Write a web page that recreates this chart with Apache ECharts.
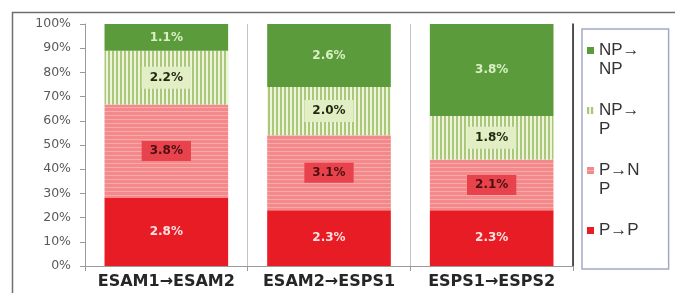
<!DOCTYPE html>
<html>
<head>
<meta charset="utf-8">
<script src="https://cdn.jsdelivr.net/npm/echarts@6/dist/echarts.min.js"></script>
<style>
  html, body { margin: 0; padding: 0; background: #fff; }
  #chart { width: 675px; height: 293px; }
</style>
</head>
<body>
<div id="chart"></div>
<script>
const categories = ['ESAM1→ESAM2', 'ESAM2→ESPS1', 'ESPS1→ESPS2']
const yTicks = ['0%', '10%', '20%', '30%', '40%', '50%', '60%', '70%', '80%', '90%', '100%']

// share of each bar (percent)
const sharePP = [28.3, 23, 23]
const sharePNP = [38.4, 31, 21]
const shareNPP = [22.2, 20, 18]
const shareNPNP = [11.1, 26, 38]

// printed labels
const labelPP = ['2.8%', '2.3%', '2.3%']
const labelPNP = ['3.8%', '3.1%', '2.1%']
const labelNPP = ['2.2%', '2.0%', '1.8%']
const labelNPNP = ['1.1%', '2.6%', '3.8%']

// legend text, wrapped like the original (blank first/last lines keep icons on line 1)
const legendText = { 'NP→NP': ' \nNP→\nNP', 'NP→P': ' \nNP→\nP', 'P→NP': ' \nP→N\nP', 'P→P': ' \nP→P\n ' }

function stripes(w, h, draw) {
  const c = document.createElement('canvas')
  c.width = w; c.height = h
  draw(c.getContext('2d'))
  return { image: c, repeat: 'repeat' }
}

const hStripe = stripes(4, 4, ctx => {
  ctx.fillStyle = '#f4898c'; ctx.fillRect(0, 0, 4, 4)
  ctx.fillStyle = '#f8a9aa'; ctx.fillRect(0, 3, 4, 1)
})
const vStripe = stripes(4, 4, ctx => {
  ctx.fillStyle = '#edf4d9'; ctx.fillRect(0, 0, 4, 4)
  ctx.fillStyle = '#a9c87a'; ctx.fillRect(0, 0, 2, 4)
})

function mkSeries(name, data, labels, color, lbl) {
  return {
    name, type: 'bar', stack: 'all', barWidth: '76%',
    data,
    itemStyle: { color },
    label: Object.assign({
      show: true, position: 'inside', fontFamily: 'DejaVu Sans', fontWeight: 'bold', fontSize: 12,
      formatter: p => labels[p.dataIndex]
    }, lbl)
  }
}

const chart = echarts.init(document.getElementById('chart'))
chart.setOption({
  animation: false,
  backgroundColor: '#fff',
  graphic: [{
    type: 'rect', left: 10, top: 10,
    shape: { width: 700, height: 300 },
    style: { fill: 'none', stroke: '#6f6f6f', lineWidth: 1.5 },
    silent: true
  }],
  grid: { left: 85, right: 102, top: 24, bottom: 27 },
  legend: {
    orient: 'vertical', left: 582, top: 29,
    data: ['NP→NP', 'NP→P', 'P→NP', 'P→P'],
    itemWidth: 7, itemHeight: 7, itemGap: 3,
    icon: 'rect',
    padding: [-7, 29, 10, 5],
    borderColor: '#a3a9c6', borderWidth: 1.5,
    formatter: n => legendText[n],
    textStyle: { fontFamily: 'Arial', fontSize: 17, color: '#333', lineHeight: 19 }
  },
  xAxis: {
    type: 'category', data: categories,
    axisLine: { lineStyle: { color: '#9a9a9a' } },
    axisTick: { show: true, length: 5, lineStyle: { color: '#9a9a9a' } },
    splitLine: { show: true, lineStyle: { color: '#c4c4c4' } },
    axisLabel: { fontFamily: 'DejaVu Sans', fontWeight: 'bold', fontSize: 16, color: '#262626', margin: 8, interval: 0 }
  },
  yAxis: [{
    type: 'value', min: 0, max: 100, interval: 10,
    axisLine: { show: true, lineStyle: { color: '#9a9a9a' } },
    axisTick: { show: true, length: 5, lineStyle: { color: '#9a9a9a' } },
    splitLine: { show: false },
    axisLabel: { fontFamily: 'DejaVu Sans', fontSize: 12.5, color: '#595959', margin: 14, formatter: v => yTicks[Math.round(v / 10)] }
  }, {
    type: 'value', min: 0, max: 100, position: 'right',
    axisLine: { show: true, lineStyle: { color: '#222', width: 1.5 } },
    axisTick: { show: false }, axisLabel: { show: false }, splitLine: { show: false }
  }],
  series: [
    mkSeries('P→P', sharePP, labelPP, '#e81c24', { color: '#fde0e0' }),
    mkSeries('P→NP', sharePNP, labelPNP, hStripe, { color: '#4a1010', backgroundColor: '#e8434d', padding: [4, 8] }),
    mkSeries('NP→P', shareNPP, labelNPP, vStripe, { color: '#1e2a10', backgroundColor: '#e2eec4', padding: [5, 8] }),
    mkSeries('NP→NP', shareNPNP, labelNPNP, '#5b9b3b', { color: '#d9f0c4' })
  ]
})
</script>
</body>
</html>
